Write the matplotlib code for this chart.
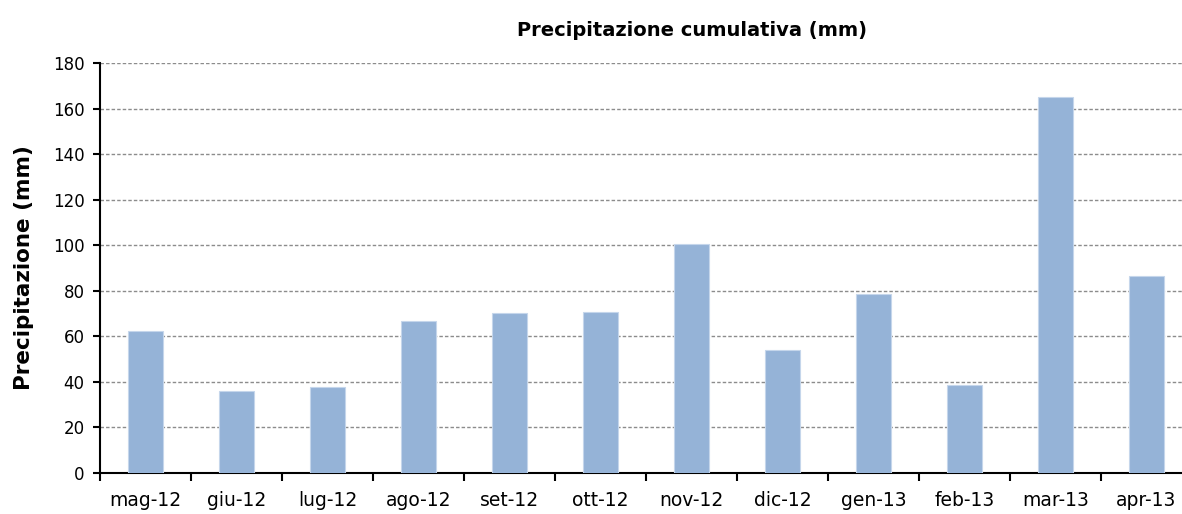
import numpy as np
import matplotlib
matplotlib.use('Agg')
import matplotlib.pyplot as plt

months = ['mag-12', 'giu-12', 'lug-12', 'ago-12', 'set-12', 'ott-12',
          'nov-12', 'dic-12', 'gen-13', 'feb-13', 'mar-13', 'apr-13']
precip = [62.3, 35.9, 37.8, 66.9, 70.1, 70.7, 100.5, 54.0, 78.6, 38.5, 165.2, 86.3]
yticks = [0, 20, 40, 60, 80, 100, 120, 140, 160, 180]

fig = plt.figure(figsize=(11.82, 5.14), dpi=100)
# plot area runs a little past the right edge, like the original
ax = fig.add_axes([100/1182, 41/514, 1092/1182, 410/514])

x = np.arange(len(months))
ax.bar(x, precip, width=0.39, color='#95B3D7', edgecolor='#C5D6EB', linewidth=0.8, zorder=3)

ax.set_xlim(-0.5, len(months) - 0.5)
ax.set_ylim(0, 180)
ax.set_yticks(yticks)
ax.set_xticks(np.arange(len(months) + 1) - 0.5)
ax.set_xticklabels([])
ax.set_xticks(x, minor=True)
ax.set_xticklabels(months, minor=True)
ax.tick_params(axis='x', which='minor', length=0, pad=13, labelsize=13.5)
ax.tick_params(axis='x', which='major', length=6, width=1.5, direction='out')
ax.tick_params(axis='y', length=5, width=1.5, direction='out', labelsize=12, pad=6)

ax.grid(axis='y', linestyle=(0, (2.5, 1.5)), color='#8c8c8c', linewidth=1, zorder=0)
for s in ['top', 'right']:
    ax.spines[s].set_visible(False)
ax.spines['left'].set_linewidth(1.5)
ax.spines['bottom'].set_linewidth(1.5)

ax.set_ylabel('Precipitazione (mm)', fontsize=15.5, fontweight='bold', labelpad=14)
fig.text(692/1182, 1 - 30/514, 'Precipitazione cumulativa (mm)', ha='center', va='center',
         fontsize=14, fontweight='bold')

fig.savefig('out.png', dpi=100)
